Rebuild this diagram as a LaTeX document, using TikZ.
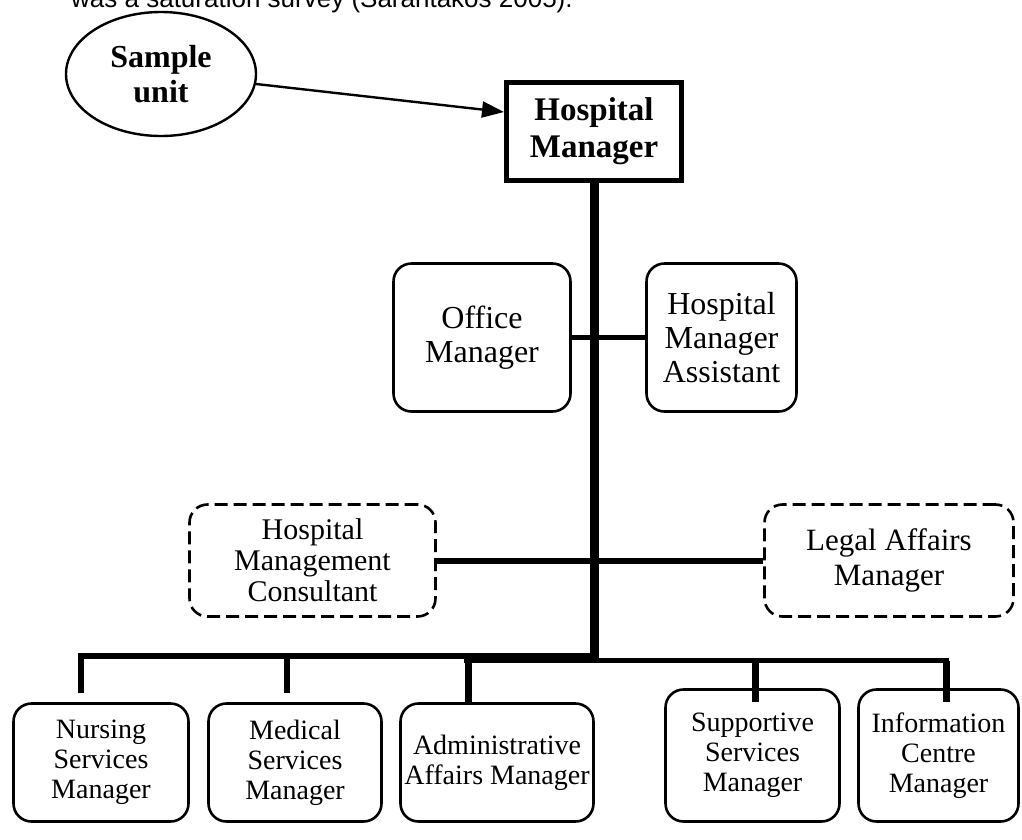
\documentclass[tikz,border=0pt]{standalone}
\usepackage{fontspec}
\setmainfont{Liberation Serif}
\newfontfamily\arialfont{Liberation Sans}
\usetikzlibrary{shapes.geometric,arrows.meta}
\begin{document}
\begin{tikzpicture}[x=1pt,y=-1pt,
  box/.style={draw,line width=2.6pt,rounded corners=18pt,align=center,inner sep=1pt,
              font=\fontsize{28pt}{30pt}\selectfont},
  staffbox/.style={box,font=\fontsize{32pt}{34pt}\selectfont},
  dbox/.style={box,dash pattern=on 13pt off 6pt,font=\fontsize{30pt}{31pt}\selectfont},
  conn/.style={line width=5pt},
  drop/.style={line width=7pt},
]
\useasboundingbox (0,0) rectangle (1022,839);

% cut-off line of text at the top
\begin{scope}
\clip (0,0) rectangle (1022,839);
\node[anchor=base west,inner sep=0pt,font=\arialfont\fontsize{26pt}{30pt}\selectfont] (cap) at (71,7) {was a saturation survey (Sarantakos 2005).};
\end{scope}

% top
\node[ellipse,draw,line width=2.4pt,minimum width=190pt,minimum height=124pt,align=center,inner sep=0pt,
      font=\bfseries\fontsize{32pt}{35pt}\selectfont] (su) at (161,74) {Sample\\unit};
\node[draw,line width=5pt,minimum width=175pt,minimum height=98pt,align=center,inner sep=2pt,
      font=\bfseries\fontsize{33pt}{37pt}\selectfont] (hm) at (594,131) {Hospital\\Manager};
\draw[line width=2.4pt,-{Triangle[length=22pt,width=16pt]}] (su.-6) -- ([yshift=19pt]hm.west);

% staff level
\node[staffbox,minimum width=177pt,minimum height=148pt] (om) at (482,337.5) {Office\\Manager};
\node[staffbox,minimum width=150pt,minimum height=148pt] (hma) at (721.5,337.5) {Hospital\\Manager\\Assistant};

% advisory level
\node[dbox,minimum width=246pt,minimum height=112pt] (hmc) at (312.5,560.5) {Hospital\\Management\\Consultant};
\node[dbox,minimum width=249pt,minimum height=112pt,font=\fontsize{31pt}{35pt}\selectfont] (lam) at (889,560.5) {Legal Affairs\\Manager};

% bottom level
\node[box,minimum width=175pt,minimum height=118pt] (nsm) at (101,762.5) {Nursing\\Services\\Manager};
\node[box,minimum width=173pt,minimum height=118pt] (msm) at (295,762.5) {Medical\\Services\\Manager};
\node[box,minimum width=193pt,minimum height=118pt] (aam) at (497,762.5) {Administrative\\Affairs Manager};
\node[box,minimum width=174pt,minimum height=132pt] (ssm) at (752.5,755.5) {Supportive\\Services\\Manager};
\node[box,minimum width=160pt,minimum height=132pt] (icm) at (938.5,755.5) {Information\\Centre\\Manager};

% connectors
\coordinate (tb) at (594,660);
\coordinate (jl) at (598,656);
\coordinate (jr) at (590,660.5);
\coordinate (tk) at (599,658);
\coordinate (dn) at (81,693);
\coordinate (dm) at (287,693);
\coordinate (da) at (468,702);
\coordinate (ds) at (755,702);
\coordinate (di) at (946,702);

\draw[line width=9pt] (hm.south) -- (tb);
\draw[conn] (om.east) -- (hma.west);
\draw[line width=6pt] (hmc.east) -- (lam.west);

\draw[line width=6pt] (dn) |- (jl);
\draw[line width=6pt] (dm) -- (dm |- jl);
\draw[line width=10pt] ([xshift=-4pt]da |- tk) -- (tk);
\draw[drop] (da) -- (da |- jl);
\draw[line width=5pt] (jr) -| (di);
\draw[drop] (di) -- (di |- jr);
\draw[drop] (ds) -- (ds |- jr);
\end{tikzpicture}
\end{document}
